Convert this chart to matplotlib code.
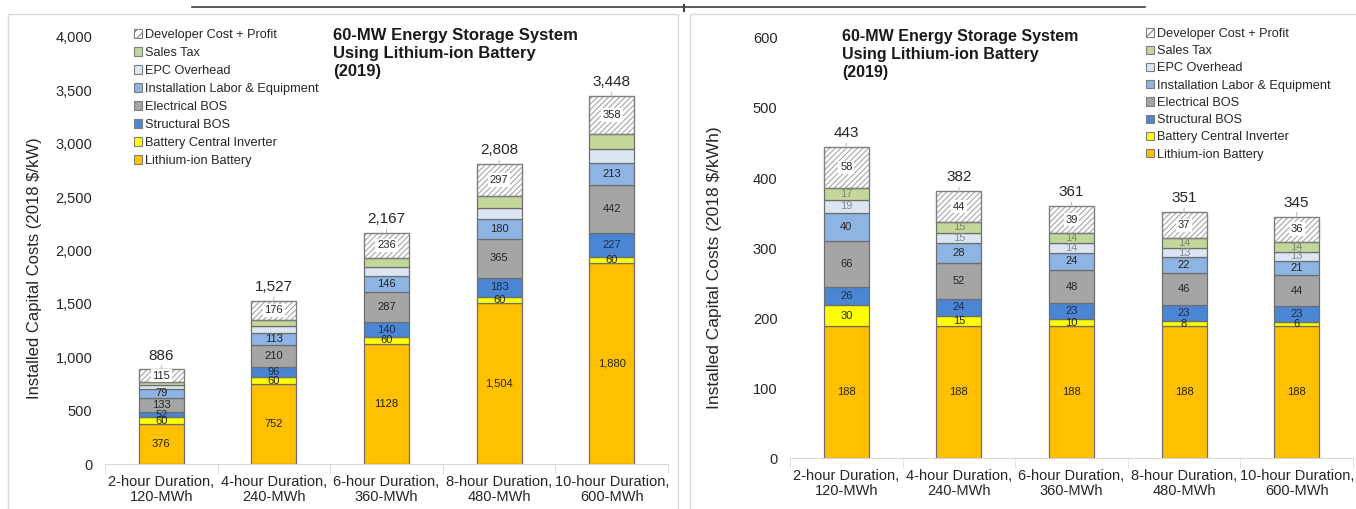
import numpy as np
import matplotlib
matplotlib.use("Agg")
import matplotlib.pyplot as plt
from matplotlib.patches import Patch, Rectangle
from matplotlib.lines import Line2D

plt.rcParams["font.family"] = ["Liberation Sans", "DejaVu Sans"]
plt.rcParams["hatch.linewidth"] = 0.8

# ---- data -------------------------------------------------------------
categories = ["2-hour Duration,\n120-MWh", "4-hour Duration,\n240-MWh",
              "6-hour Duration,\n360-MWh", "8-hour Duration,\n480-MWh",
              "10-hour Duration,\n600-MWh"]

components = ["Lithium-ion Battery", "Battery Central Inverter", "Structural BOS",
              "Electrical BOS", "Installation Labor & Equipment", "EPC Overhead",
              "Sales Tax", "Developer Cost + Profit"]

# $/kW
battery_kw = [376, 752, 1128, 1504, 1880]
inverter_kw = [60, 60, 60, 60, 60]
structural_kw = [52, 96, 140, 183, 227]
electrical_kw = [133, 210, 287, 365, 442]
install_kw = [79, 113, 146, 180, 213]
epc_kw = [37, 60, 85, 105, 130]
tax_kw = [34, 60, 85, 114, 138]
developer_kw = [115, 176, 236, 297, 358]
totals_kw = [886, 1527, 2167, 2808, 3448]

# $/kWh
battery_kwh = [188, 188, 188, 188, 188]
inverter_kwh = [30, 15, 10, 8, 6]
structural_kwh = [26, 24, 23, 23, 23]
electrical_kwh = [66, 52, 48, 46, 44]
install_kwh = [40, 28, 24, 22, 21]
epc_kwh = [19, 15, 14, 13, 13]
tax_kwh = [17, 15, 14, 14, 14]
developer_kwh = [58, 44, 39, 37, 36]
totals_kwh = [443, 382, 361, 351, 345]

colors = ["#FFC000", "#FFFF00", "#4A86D4", "#A5A5A5", "#8DB4E2",
          "#DCE6F2", "#C4D79B", "#FFFFFF"]
label_colors = ["#262626", "#262626", "#1F2F4F", "#262626", "#262626",
                "#8A8A8A", "#7E8A6E", "#262626"]

title = "60-MW Energy Storage System\nUsing Lithium-ion Battery\n(2019)"

W, H = 1356, 509
fig = plt.figure(figsize=(W / 100, H / 100), dpi=100)


def fx(px):
    return px / W


def fy(py):
    return 1 - py / H


# panel frames and header rule
fig.add_artist(Rectangle((fx(8), fy(520)), fx(670), fy(14) - fy(520),
                         transform=fig.transFigure, fill=False,
                         edgecolor="#D9D9D9", linewidth=1.0))
fig.add_artist(Rectangle((fx(690), fy(520)), fx(680), fy(14) - fy(520),
                         transform=fig.transFigure, fill=False,
                         edgecolor="#D9D9D9", linewidth=1.0))
fig.add_artist(Line2D([fx(192), fx(1145)], [fy(7), fy(7)],
                      transform=fig.transFigure, color="#404040", linewidth=1.2))
fig.add_artist(Line2D([fx(684), fx(684)], [fy(5), fy(11)],
                      transform=fig.transFigure, color="#404040", linewidth=1.5))


def draw_panel(ax, stacks, totals, ymax, ystep, fmt_tick, fmt_seg, seg_labeled,
               ylabel, ylabel_x, ylabel_size, xpad):
    x = np.arange(len(categories))
    width = 0.4
    bottom = np.zeros(len(categories))
    for i, (vals, col) in enumerate(zip(stacks, colors)):
        vals = np.asarray(vals, dtype=float)
        if i == len(stacks) - 1:
            # hatched developer cost: hatch first, then the outline
            ax.bar(x, vals, width, bottom=bottom, color="white",
                   edgecolor="#A6A6A6", hatch="//////", linewidth=0, zorder=2)
            ax.bar(x, vals, width, bottom=bottom, fill=False,
                   edgecolor="#7F7F7F", linewidth=1.0, zorder=3)
        else:
            ax.bar(x, vals, width, bottom=bottom, color=col,
                   edgecolor="#6E6E6E", linewidth=0.9, zorder=3)
        if seg_labeled[i]:
            for xi, b, v in zip(x, bottom, vals):
                kw = {}
                if i == len(stacks) - 1:
                    kw["bbox"] = dict(boxstyle="square,pad=0.15", facecolor="white",
                                      edgecolor="none")
                ax.text(xi, b + v / 2, fmt_seg(i, xi, v), ha="center", va="center",
                        fontsize=8, color=label_colors[i], zorder=5, **kw)
        bottom = bottom + vals

    for xi, top, tot in zip(x, bottom, totals):
        ax.annotate(f"{tot:,}", xy=(xi, top), xytext=(0, 10),
                    textcoords="offset points", ha="center", va="center",
                    fontsize=11, color="#262626",
                    arrowprops=dict(arrowstyle="-", color="#BFBFBF", lw=0.8,
                                    shrinkA=5, shrinkB=0))

    ax.set_xlim(-0.5, len(categories) - 0.5)
    ax.set_ylim(0, ymax)
    ax.set_yticks(np.arange(0, ymax + 1, ystep))
    ax.set_yticklabels([fmt_tick(v) for v in np.arange(0, ymax + 1, ystep)])
    ax.set_xticks(x)
    ax.set_xticklabels(categories, fontsize=10.5, color="#262626", linespacing=1.1)
    ax.set_xticks(np.arange(-0.5, len(categories), 1), minor=True)
    ax.tick_params(axis="x", which="major", length=0, pad=xpad)
    ax.tick_params(axis="x", which="minor", length=7, color="#D9D9D9", direction="out")
    ax.tick_params(axis="y", length=0, labelsize=10.5, labelcolor="#262626", pad=9)
    for s in ("left", "right", "top"):
        ax.spines[s].set_visible(False)
    ax.spines["bottom"].set_color("#D9D9D9")
    ax.set_facecolor("none")
    ax.set_ylabel(ylabel, fontsize=ylabel_size, color="#262626")
    ax.yaxis.set_label_coords(ylabel_x, fy(268), transform=fig.transFigure)


def legend_handles():
    hs = []
    for comp, col in zip(components, colors):
        if comp.startswith("Developer"):
            hs.append(Patch(facecolor="white", edgecolor="#7F7F7F", hatch="////",
                            linewidth=0.8, label=comp))
        else:
            hs.append(Patch(facecolor=col, edgecolor="#7F7F7F", linewidth=0.8,
                            label=comp))
    return hs[::-1]


# ---- left panel: $/kW ---------------------------------------------------
axL = fig.add_axes([fx(105), fy(464), fx(668) - fx(105), fy(37) - fy(464)])
stacks_kw = [battery_kw, inverter_kw, structural_kw, electrical_kw, install_kw,
             epc_kw, tax_kw, developer_kw]


def seg_kw(i, xi, v):
    v = int(round(v))
    if i == 0 and v < 1500:
        return f"{v}"
    return f"{v:,}"


draw_panel(axL, stacks_kw, totals_kw, 4000, 500, lambda v: f"{int(v):,}", seg_kw,
           [True, True, True, True, True, False, False, True],
           "Installed Capital Costs (2018 $/kW)", fx(42), 12, 8)

fig.legend(handles=legend_handles(), loc="upper left",
           bbox_to_anchor=(fx(134), fy(29)), bbox_transform=fig.transFigure,
           frameon=False, fontsize=9.2, handlelength=0.6, handleheight=0.6,
           handletextpad=0.25, labelspacing=0.47, borderpad=0,
           borderaxespad=0, labelcolor="#262626")
fig.text(fx(333), fy(28), title, ha="left", va="top", fontsize=12,
         fontweight="bold", color="#1A1A1A", linespacing=1.25)

# ---- right panel: $/kWh -------------------------------------------------
axR = fig.add_axes([fx(790), fy(458), fx(1353) - fx(790), fy(38) - fy(458)])
stacks_kwh = [battery_kwh, inverter_kwh, structural_kwh, electrical_kwh,
              install_kwh, epc_kwh, tax_kwh, developer_kwh]
draw_panel(axR, stacks_kwh, totals_kwh, 600, 100, lambda v: f"{int(v)}",
           lambda i, xi, v: f"{int(round(v))}", [True] * 8,
           "Installed Capital Costs (2018 $/kWh)", fx(722), 12.5, 8)

fig.legend(handles=legend_handles(), loc="upper left",
           bbox_to_anchor=(fx(1146), fy(28)), bbox_transform=fig.transFigure,
           frameon=False, fontsize=9.2, handlelength=0.6, handleheight=0.6,
           handletextpad=0.25, labelspacing=0.41, borderpad=0,
           borderaxespad=0, labelcolor="#262626")
fig.text(fx(842), fy(29), title, ha="left", va="top", fontsize=11.5,
         fontweight="bold", color="#1A1A1A", linespacing=1.25)

fig.savefig("out.png", dpi=100)
